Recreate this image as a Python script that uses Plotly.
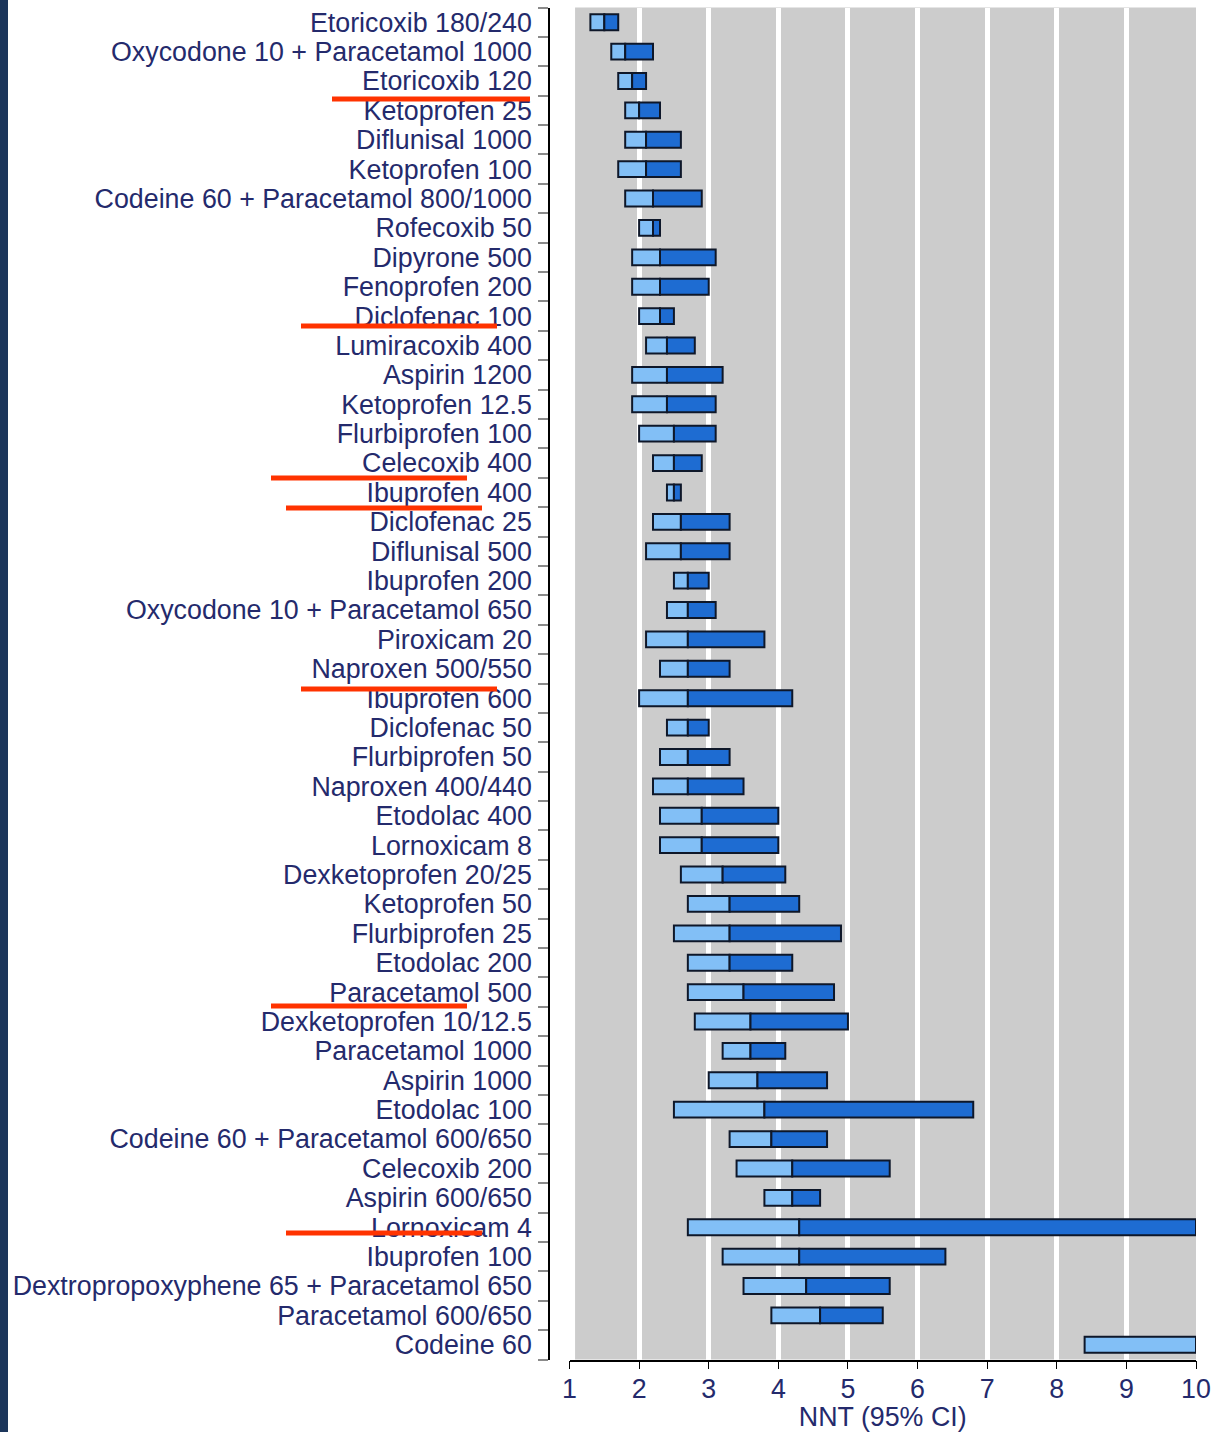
import plotly.graph_objects as go

W, H = 1211, 1432

# ---- data (NNT with 95% CI) ----
labels = [
    "Etoricoxib 180/240", "Oxycodone 10 + Paracetamol 1000", "Etoricoxib 120",
    "Ketoprofen 25", "Diflunisal 1000", "Ketoprofen 100",
    "Codeine 60 + Paracetamol 800/1000", "Rofecoxib 50", "Dipyrone 500",
    "Fenoprofen 200", "Diclofenac 100", "Lumiracoxib 400", "Aspirin 1200",
    "Ketoprofen 12.5", "Flurbiprofen 100", "Celecoxib 400", "Ibuprofen 400",
    "Diclofenac 25", "Diflunisal 500", "Ibuprofen 200",
    "Oxycodone 10 + Paracetamol 650", "Piroxicam 20", "Naproxen 500/550",
    "Ibuprofen 600", "Diclofenac 50", "Flurbiprofen 50", "Naproxen 400/440",
    "Etodolac 400", "Lornoxicam 8", "Dexketoprofen 20/25", "Ketoprofen 50",
    "Flurbiprofen 25", "Etodolac 200", "Paracetamol 500",
    "Dexketoprofen 10/12.5", "Paracetamol 1000", "Aspirin 1000",
    "Etodolac 100", "Codeine 60 + Paracetamol 600/650", "Celecoxib 200",
    "Aspirin 600/650", "Lornoxicam 4", "Ibuprofen 100",
    "Dextropropoxyphene 65 + Paracetamol 650", "Paracetamol 600/650",
    "Codeine 60",
]
lower = [1.3, 1.6, 1.7, 1.8, 1.8, 1.7, 1.8, 2.0, 1.9, 1.9,
         2.0, 2.1, 1.9, 1.9, 2.0, 2.2, 2.4, 2.2, 2.1, 2.5,
         2.4, 2.1, 2.3, 2.0, 2.4, 2.3, 2.2, 2.3, 2.3, 2.6,
         2.7, 2.5, 2.7, 2.7, 2.8, 3.2, 3.0, 2.5, 3.3, 3.4,
         3.8, 2.7, 3.2, 3.5, 3.9, 8.4]
point = [1.5, 1.8, 1.9, 2.0, 2.1, 2.1, 2.2, 2.2, 2.3, 2.3,
         2.3, 2.4, 2.4, 2.4, 2.5, 2.5, 2.5, 2.6, 2.6, 2.7,
         2.7, 2.7, 2.7, 2.7, 2.7, 2.7, 2.7, 2.9, 2.9, 3.2,
         3.3, 3.3, 3.3, 3.5, 3.6, 3.6, 3.7, 3.8, 3.9, 4.2,
         4.2, 4.3, 4.3, 4.4, 4.6, 10.0]
upper = [1.7, 2.2, 2.1, 2.3, 2.6, 2.6, 2.9, 2.3, 3.1, 3.0,
         2.5, 2.8, 3.2, 3.1, 3.1, 2.9, 2.6, 3.3, 3.3, 3.0,
         3.1, 3.8, 3.3, 4.2, 3.0, 3.3, 3.5, 4.0, 4.0, 4.1,
         4.3, 4.9, 4.2, 4.8, 5.0, 4.1, 4.7, 6.8, 4.7, 5.6,
         4.6, 10.0, 6.4, 5.6, 5.5, 10.0]
x_ticks = [1, 2, 3, 4, 5, 6, 7, 8, 9, 10]
x_title = "NNT (95% CI)"

# ---- styles ----
LIGHT = "#82bff6"
DARK = "#1e6cd2"
OUTLINE = "#0e1729"
NAVY = "#242a6c"
FONT = "Liberation Sans, Arial, sans-serif"
FS = 26.8

fig = go.Figure()
fig.add_trace(go.Bar(
    y=labels, x=[p - l for p, l in zip(point, lower)], base=lower,
    orientation="h", width=0.54,
    marker=dict(color=LIGHT, line=dict(color=OUTLINE, width=2)),
    hoverinfo="skip"))
fig.add_trace(go.Bar(
    y=labels, x=[u - p for u, p in zip(upper, point)], base=point,
    orientation="h", width=0.54,
    marker=dict(color=DARK, line=dict(color=OUTLINE, width=2)),
    hoverinfo="skip"))

x_dom = [569.5 / W, 1196 / W]
y_dom = [1 - 1359.5 / H, 1 - 7.5 / H]

shapes = [
    # grey panel
    dict(type="rect", xref="x", yref="paper", x0=1.08, x1=10,
         y0=y_dom[0], y1=y_dom[1], fillcolor="#cccccc",
         line=dict(width=0), layer="below"),
    # navy strip at left edge
    dict(type="rect", xref="paper", yref="paper", x0=0, x1=8 / W, y0=0, y1=1,
         fillcolor="#1c365b", line=dict(width=0), layer="above"),
]
red_marks = [(332, 530, 99), (301, 497, 326), (271, 467, 478), (286, 482, 508),
             (301, 497, 689), (271, 467, 1006), (286, 482, 1233)]
for x0, x1, yy in red_marks:
    shapes.append(dict(type="line", xref="paper", yref="paper",
                       x0=x0 / W, x1=x1 / W, y0=1 - yy / H, y1=1 - yy / H,
                       line=dict(color="#ff3300", width=5), layer="above"))

fig.update_layout(
    width=W, height=H, autosize=False,
    margin=dict(l=0, r=0, t=0, b=0, pad=0, autoexpand=False),
    paper_bgcolor="white", plot_bgcolor="white",
    barmode="overlay", showlegend=False,
    font=dict(family=FONT, size=FS, color=NAVY),
    shapes=shapes,
    xaxis=dict(
        domain=x_dom, range=[1, 10], tickmode="array", tickvals=x_ticks,
        showgrid=True, gridcolor="white", gridwidth=5, zeroline=False,
        showline=True, linecolor="black", linewidth=1.5,
        ticks="outside", ticklen=8, tickcolor="black", tickwidth=1.2,
        ticklabelstandoff=-3,
        tickfont=dict(family=FONT, size=FS, color=NAVY),
        title=dict(text=x_title, font=dict(family=FONT, size=FS, color=NAVY),
                   standoff=5),
        automargin=False,
        anchor="y", fixedrange=True),
    yaxis=dict(
        type="category", categoryorder="array", categoryarray=labels,
        tickmode="array", tickvals=labels, ticktext=labels,
        range=[len(labels) - 0.5, -0.5],
        domain=y_dom, anchor="free", position=549 / W,
        showgrid=False, zeroline=False,
        showline=True, linecolor="black", linewidth=1.5,
        ticks="outside", tickson="boundaries", ticklen=10,
        tickcolor="#8a8a8a", tickwidth=1.5,
        ticklabelstandoff=11,
        tickfont=dict(family=FONT, size=FS, color=NAVY),
        automargin=False,
        fixedrange=True),
)

fig.write_html(
    "out.html",
    config={"displayModeBar": False, "responsive": False},
    post_script="document.body.style.margin='0';"
                "document.body.style.overflow='hidden';")
